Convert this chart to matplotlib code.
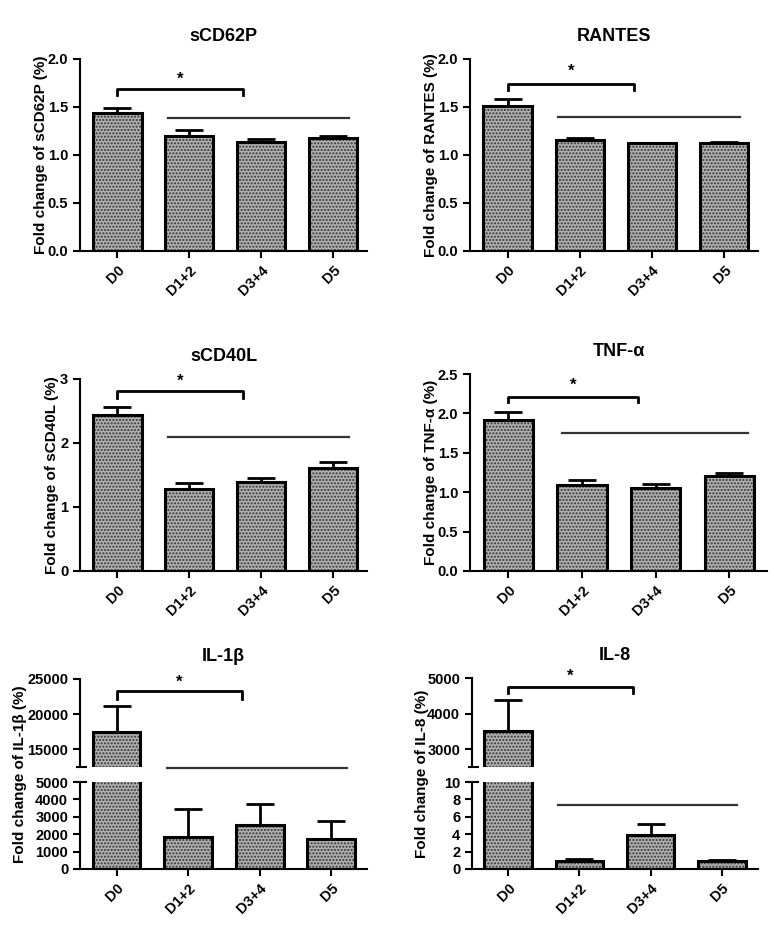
import numpy as np
import matplotlib.pyplot as plt

plt.rcParams['font.family'] = ['Liberation Sans', 'DejaVu Sans']
plt.rcParams['font.weight'] = 'bold'
plt.rcParams['axes.labelweight'] = 'bold'
plt.rcParams['hatch.linewidth'] = 1.0

jours = ['D0', 'D1+2', 'D3+4', 'D5']

# valeurs (moyenne, erreur haute)
cd62p = [1.44, 1.20, 1.135, 1.18]
cd62p_err = [0.045, 0.06, 0.03, 0.02]
rantes = [1.51, 1.16, 1.12, 1.13]
rantes_err = [0.07, 0.02, 0.01, 0.01]
cd40l = [2.44, 1.28, 1.39, 1.61]
cd40l_err = [0.13, 0.09, 0.07, 0.10]
tnfa = [1.91, 1.09, 1.05, 1.21]
tnfa_err = [0.11, 0.07, 0.06, 0.04]
il1b = [17500, 1860, 2530, 1720]
il1b_err = [3600, 1590, 1190, 1040]
il8 = [3516, 0.92, 3.9, 0.92]
il8_err = [880, 0.23, 1.3, 0.06]

W = 774.0
H = 925.0

def rect(gauche, droite, haut, bas):
    return [gauche / W, 1 - bas / H, (droite - gauche) / W, (bas - haut) / H]

def barres(ax, vals, errs):
    x = np.arange(len(vals))
    ax.bar(x, vals, width=0.67, color='#b0b0b0', edgecolor='#333333', hatch='.....', linewidth=0, zorder=2)
    ax.bar(x, vals, width=0.67, fill=False, edgecolor='black', linewidth=2.2, zorder=3)
    ax.errorbar(x, vals, yerr=[np.zeros(len(vals)), errs], fmt='none', ecolor='black',
                elinewidth=2, capsize=10, capthick=2, zorder=1)

def style(ax, bas=True):
    for s in ['top', 'right']:
        ax.spines[s].set_visible(False)
    ax.spines['left'].set_linewidth(1.5)
    ax.spines['bottom'].set_linewidth(1.5)
    ax.tick_params(width=1.5, length=5, labelsize=10.5)
    if bas:
        ax.set_xticks(range(4))
        ax.set_xticklabels(jours, rotation=45, ha='right', rotation_mode='anchor')
    else:
        ax.spines['bottom'].set_visible(False)
        ax.set_xticks([])

def coupure(ax, y):
    # petit trait horizontal a l'extremite de l'axe coupe
    ax.plot([-0.012, 0.02], [y, y], transform=ax.transAxes, color='black', lw=1.5, clip_on=False)

def bracket(ax, y, yb, ystar, x0=0, x1=1.75):
    ax.plot([x0, x0, x1, x1], [yb, y, y, yb], color='black', lw=2, clip_on=False, zorder=4)
    ax.text((x0 + x1) / 2, ystar, '*', ha='center', va='center', fontsize=12)

def ligne(ax, y, x0=0.7, x1=3.22):
    ax.plot([x0, x1], [y, y], color='#333333', lw=1.6, clip_on=False, zorder=4)

fig = plt.figure(figsize=(7.74, 9.25), dpi=100)

# --- sCD62P ---
ax = fig.add_axes(rect(80, 367, 59, 251))
barres(ax, cd62p, cd62p_err)
style(ax)
ax.set_xlim(-0.52, 3.47)
ax.set_ylim(0, 2.0)
ax.set_yticks([0, 0.5, 1.0, 1.5, 2.0])
ax.set_yticklabels(['0.0', '0.5', '1.0', '1.5', '2.0'])
ax.set_title('sCD62P', fontsize=13, fontweight='bold', pad=13)
ax.set_ylabel('Fold change of sCD62P (%)', fontsize=11, labelpad=0)
bracket(ax, 1.69, 1.625, 1.79)
ligne(ax, 1.39)

# --- RANTES ---
ax = fig.add_axes(rect(470, 758, 59, 251))
barres(ax, rantes, rantes_err)
style(ax)
ax.set_xlim(-0.52, 3.47)
ax.set_ylim(0, 2.0)
ax.set_yticks([0, 0.5, 1.0, 1.5, 2.0])
ax.set_yticklabels(['0.0', '0.5', '1.0', '1.5', '2.0'])
ax.set_title('RANTES', fontsize=13, fontweight='bold', pad=13)
ax.set_ylabel('Fold change of RANTES (%)', fontsize=11, labelpad=0)
bracket(ax, 1.74, 1.68, 1.87)
ligne(ax, 1.40)

# --- sCD40L ---
ax = fig.add_axes(rect(80, 367, 379, 571))
barres(ax, cd40l, cd40l_err)
style(ax)
ax.set_xlim(-0.52, 3.47)
ax.set_ylim(0, 3)
ax.set_yticks([0, 1, 2, 3])
ax.set_title('sCD40L', fontsize=13, fontweight='bold', pad=13)
ax.set_ylabel('Fold change of sCD40L (%)', fontsize=11, labelpad=1)
bracket(ax, 2.82, 2.70, 2.97)
ligne(ax, 2.10)

# --- TNF-alpha ---
ax = fig.add_axes(rect(470, 767, 374, 571))
barres(ax, tnfa, tnfa_err)
style(ax)
ax.set_xlim(-0.52, 3.51)
ax.set_ylim(0, 2.5)
ax.set_yticks([0, 0.5, 1.0, 1.5, 2.0, 2.5])
ax.set_yticklabels(['0.0', '0.5', '1.0', '1.5', '2.0', '2.5'])
ax.set_title('TNF-α', fontsize=13, fontweight='bold', pad=13)
ax.set_ylabel('Fold change of TNF-α (%)', fontsize=11, labelpad=0)
bracket(ax, 2.21, 2.14, 2.36, x1=1.76)
ligne(ax, 1.75, 0.73, 3.25)

# --- IL-1beta (axe coupé) ---
haut = fig.add_axes(rect(80, 367, 679, 767))
bas = fig.add_axes(rect(80, 367, 782, 869))
for a in (haut, bas):
    barres(a, il1b, il1b_err)
    a.set_xlim(-0.51, 3.5)
style(haut, bas=False)
style(bas)
haut.set_ylim(12500, 25000)
haut.set_yticks([15000, 20000, 25000])
bas.set_ylim(0, 5000)
bas.set_yticks([0, 1000, 2000, 3000, 4000, 5000])
coupure(haut, 0)
coupure(bas, 1)
haut.set_title('IL-1β', fontsize=13, fontweight='bold', pad=13)
bracket(haut, 23350, 22230, 24600)
ligne(haut, 12350)
fig.text(20 / W, 1 - 774 / H, 'Fold change of IL-1β (%)', rotation=90, ha='center', va='center', fontsize=11)

# --- IL-8 (axe coupé) ---
haut = fig.add_axes(rect(472, 758, 678, 767))
bas = fig.add_axes(rect(472, 758, 782, 869))
for a in (haut, bas):
    barres(a, il8, il8_err)
    a.set_xlim(-0.51, 3.51)
style(haut, bas=False)
style(bas)
haut.set_ylim(2500, 5000)
haut.set_yticks([3000, 4000, 5000])
bas.set_ylim(0, 10)
bas.set_yticks([0, 2, 4, 6, 8, 10])
coupure(haut, 0)
coupure(bas, 1)
haut.set_title('IL-8', fontsize=13, fontweight='bold', pad=13)
bracket(haut, 4740, 4570, 5040)
ligne(bas, 7.4)
fig.text(422 / W, 1 - 774 / H, 'Fold change of IL-8 (%)', rotation=90, ha='center', va='center', fontsize=11)

fig.savefig('out.png', dpi=100)
